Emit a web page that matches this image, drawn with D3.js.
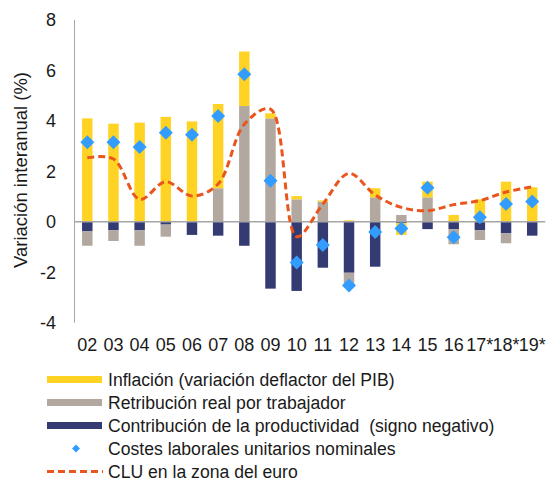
<!DOCTYPE html>
<html>
<head>
<meta charset="utf-8">
<script src="https://cdn.jsdelivr.net/npm/d3@7"></script>
<style>
  html, body { margin: 0; padding: 0; background: #fff; }
  svg { display: block; font-family: "Liberation Sans", Arial, sans-serif; }
</style>
</head>
<body>
<div id="chart"></div>
<script>
const years = ["02","03","04","05","06","07","08","09","10","11","12","13","14","15","16","17*","18*","19*"]
const inflacion = [4.10, 3.89, 3.93, 4.16, 3.98, 3.34, 2.16, 0.20, 0.13, 0.05, 0.06, 0.36, -0.47, 0.62, 0.27, 0.89, 1.59, 1.37]
const retribucion = [-0.57, -0.43, -0.61, -0.48, 0, 1.33, 4.59, 4.10, 0.89, 0.80, -0.50, 0.97, 0.27, 0.97, -0.60, -0.39, -0.39, 0]
const productividad = [-0.38, -0.33, -0.34, -0.11, -0.52, -0.55, -0.95, -2.65, -2.74, -1.82, -2.02, -1.78, -0.05, -0.29, -0.29, -0.33, -0.46, -0.55]
const costesLaborales = [3.15, 3.15, 2.97, 3.53, 3.45, 4.19, 5.85, 1.63, -1.61, -0.92, -2.53, -0.40, -0.27, 1.35, -0.61, 0.18, 0.71, 0.80]
const cluEuro = [2.54, 2.49, 0.89, 1.59, 1.02, 1.50, 3.87, 4.47, -0.59, 0.70, 1.92, 1.06, 0.57, 0.44, 0.68, 0.84, 1.18, 1.39]
const yTicks = [-4, -2, 0, 2, 4, 6, 8]

const COLORS = {
  inflacion: "#FFD324",
  retribucion: "#B2A8A0",
  productividad: "#343A72",
  costes: "#339CFF",
  clu: "#E8561E",
  axis: "#A6A6A6",
  text: "#1a1a1a"
}

const width = 549, height = 482

const svg = d3.select("#chart").append("svg")
  .attr("width", width)
  .attr("height", height)

const x = d3.scaleBand().domain(years).range([74.2, 545.3]).paddingInner(0.6).paddingOuter(0.3)
const y = d3.scaleLinear().domain([-4, 8]).range([322.7, 20])

// stacked bars, productivity nearest zero, then real pay, then inflation
const rows = years.map((yr, i) => ({
  year: yr,
  productividad: productividad[i],
  retribucion: retribucion[i],
  inflacion: inflacion[i]
}))
const keys = ["productividad", "retribucion", "inflacion"]
const series = d3.stack().keys(keys).offset(d3.stackOffsetDiverging)(rows)

// Y axis line
svg.append("line")
  .attr("x1", 74.5).attr("x2", 74.5)
  .attr("y1", y(8)).attr("y2", y(-4))
  .attr("stroke", COLORS.axis).attr("stroke-width", 1)

// Y tick labels
svg.append("g")
  .selectAll("text")
  .data(yTicks)
  .join("text")
  .attr("x", 56)
  .attr("y", d => y(d))
  .attr("dy", "0.35em")
  .attr("text-anchor", "end")
  .attr("font-size", "18px")
  .attr("fill", COLORS.text)
  .text(d => d)

// Y axis title
svg.append("text")
  .attr("transform", `translate(21,170) rotate(-90)`)
  .attr("dy", "0.35em")
  .attr("text-anchor", "middle")
  .attr("font-size", "18.5px")
  .attr("fill", COLORS.text)
  .text("Variación interanual (%)")

// Bars
svg.append("g")
  .selectAll("g")
  .data(series)
  .join("g")
  .attr("fill", d => COLORS[d.key])
  .selectAll("rect")
  .data(d => d)
  .join("rect")
  .attr("x", d => x(d.data.year))
  .attr("width", x.bandwidth())
  .attr("y", d => y(Math.max(d[0], d[1])))
  .attr("height", d => Math.abs(y(d[0]) - y(d[1])))

// Zero line
svg.append("line")
  .attr("x1", 74.5).attr("x2", 545.3)
  .attr("y1", y(0)).attr("y2", y(0))
  .attr("stroke", COLORS.axis).attr("stroke-width", 1.5)

// CLU euro area dashed line
const line = d3.line()
  .x((d, i) => x(years[i]) + x.bandwidth() / 2)
  .y(d => y(d))
  .curve(d3.curveCatmullRom.alpha(0.5))

svg.append("path")
  .datum(cluEuro)
  .attr("d", line)
  .attr("fill", "none")
  .attr("stroke", COLORS.clu)
  .attr("stroke-width", 3)
  .attr("stroke-dasharray", "7,4")

// Diamonds for nominal unit labour costs
const diamond = r => `M0,${-r}L${r},0L0,${r}L${-r},0Z`
svg.append("g")
  .selectAll("path")
  .data(costesLaborales)
  .join("path")
  .attr("transform", (d, i) => `translate(${x(years[i]) + x.bandwidth() / 2},${y(d)})`)
  .attr("d", diamond(7))
  .attr("fill", COLORS.costes)

// Category labels
svg.append("g")
  .selectAll("text")
  .data(years)
  .join("text")
  .attr("x", d => x(d) + x.bandwidth() / 2)
  .attr("y", 351)
  .attr("text-anchor", "middle")
  .attr("font-size", "18px")
  .attr("fill", COLORS.text)
  .text(d => d)

// Legend
const legend = [
  { label: "Inflación (variación deflactor del PIB)", type: "bar", color: COLORS.inflacion },
  { label: "Retribución real por trabajador", type: "bar", color: COLORS.retribucion },
  { label: "Contribución de la productividad  (signo negativo)", type: "bar", color: COLORS.productividad },
  { label: "Costes laborales unitarios nominales", type: "diamond", color: COLORS.costes },
  { label: "CLU en la zona del euro", type: "dash", color: COLORS.clu }
]

const lg = svg.append("g")
  .selectAll("g")
  .data(legend)
  .join("g")
  .attr("transform", (d, i) => `translate(0,${379.5 + i * 23})`)

lg.each(function(d) {
  const el = d3.select(this)
  if (d.type === "bar") {
    el.append("rect")
      .attr("x", 47).attr("y", -3.5)
      .attr("width", 55).attr("height", 7)
      .attr("fill", d.color)
  } else if (d.type === "diamond") {
    el.append("path")
      .attr("transform", "translate(76,0)")
      .attr("d", diamond(4))
      .attr("fill", d.color)
  } else {
    el.append("line")
      .attr("x1", 47).attr("x2", 103)
      .attr("stroke", d.color)
      .attr("stroke-width", 3)
      .attr("stroke-dasharray", "7,4")
  }
  el.append("text")
    .attr("x", 108)
    .attr("dy", "0.35em")
    .attr("font-size", "17.6px")
    .attr("fill", COLORS.text)
    .style("white-space", "pre")
    .text(d.label)
})
</script>
</body>
</html>
